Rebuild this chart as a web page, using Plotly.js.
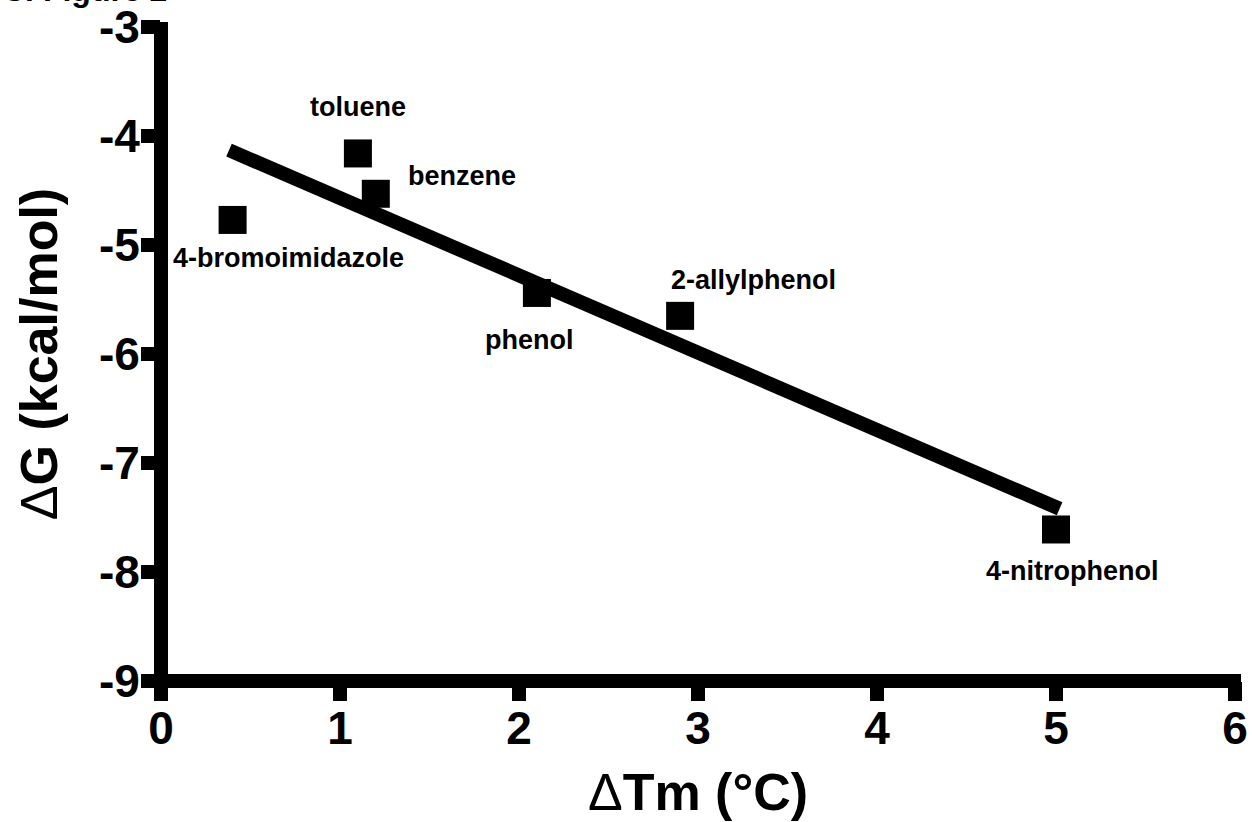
<!DOCTYPE html>
<html>
<head>
<meta charset="utf-8">
<script src="https://cdn.plot.ly/plotly-3.0.1.min.js"></script>
<style>html,body{margin:0;padding:0;background:#fff;}#chart{width:1252px;height:822px;}</style>
</head>
<body>
<div id="chart"></div>
<script>
// Data
const compounds = ["4-bromoimidazole", "toluene", "benzene", "phenol", "2-allylphenol", "4-nitrophenol"];
const deltaTm = [0.4, 1.1, 1.2, 2.1, 2.9, 5.0];
const deltaG = [-4.77, -4.16, -4.53, -5.44, -5.65, -7.61];
// Linear fit line endpoints
const fitX = [0.38, 5.02];
const fitY = [-4.13, -7.42];
// Label anchor positions (data coords) for each compound
const labelX = [0.715, 1.10, 1.68, 2.06, 3.31, 5.09];
const labelY = [-5.12, -3.73, -4.37, -5.87, -5.32, -7.99];
// Ticks
const xTicks = [0, 1, 2, 3, 4, 5, 6];
const yTicks = [-9, -8, -7, -6, -5, -4, -3];

const FONT = "Arial, 'Liberation Sans', Helvetica, sans-serif";

const traces = [
  {
    x: fitX, y: fitY, type: "scatter", mode: "lines",
    line: {color: "#000", width: 14},
    hoverinfo: "skip", showlegend: false
  },
  {
    x: deltaTm, y: deltaG, type: "scatter", mode: "markers",
    marker: {symbol: "square", size: 28, color: "#000"},
    text: compounds, showlegend: false
  }
];

const annotations = compounds.map((c, i) => ({
  x: labelX[i], y: labelY[i], xref: "x", yref: "y",
  text: c, showarrow: false, xanchor: "center", yanchor: "middle",
  font: {family: FONT, size: 27, color: "#000", weight: "bold"}
}));
// partially visible heading at the very top (cut off in the original)
annotations.push({
  x: -161/1074, y: 1 + (27 - 10)/654, xref: "paper", yref: "paper",
  xanchor: "left", yanchor: "bottom", showarrow: false,
  text: "C. Figure 2",
  font: {family: FONT, size: 32, color: "#000", weight: "bold"}
});

const layout = {
  width: 1252, height: 822,
  margin: {l: 161, r: 17, t: 27, b: 141},
  paper_bgcolor: "#fff", plot_bgcolor: "#fff",
  showlegend: false,
  xaxis: {
    range: [0, 6], tickvals: xTicks, ticktext: xTicks.map(String),
    showgrid: false, zeroline: false, showline: false,
    ticks: "outside", ticklen: 19, tickwidth: 14, tickcolor: "#000",
    ticklabelstandoff: -12,
    tickfont: {family: FONT, size: 46, color: "#000", weight: "bold"},
    title: {text: '<span style="font-weight:normal">Δ</span>Tm (°C)',
            font: {family: FONT, size: 52, color: "#000", weight: "bold"}, standoff: 20}
  },
  yaxis: {
    range: [-9, -3], tickvals: yTicks, ticktext: yTicks.map(String),
    showgrid: false, zeroline: false, showline: false,
    ticks: "outside", ticklen: 19, tickwidth: 14, tickcolor: "#000",
    ticklabelstandoff: -8,
    tickfont: {family: FONT, size: 46, color: "#000", weight: "bold"},
    title: {text: '<span style="font-weight:normal">Δ</span>G (kcal/mol)',
            font: {family: FONT, size: 52, color: "#000", weight: "bold"}, standoff: 24}
  },
  shapes: [
    {type: "line", xref: "paper", yref: "paper", x0: 0, x1: 0, y0: -7/654, y1: 1 + 5/654,
     line: {color: "#000", width: 14}, layer: "above"},
    {type: "line", xref: "paper", yref: "paper", x0: -7/1074, x1: 1 + 6/1074, y0: 0, y1: 0,
     line: {color: "#000", width: 14}, layer: "above"}
  ],
  annotations: annotations
};

Plotly.newPlot("chart", traces, layout, {displayModeBar: false, staticPlot: true});
</script>
</body>
</html>
